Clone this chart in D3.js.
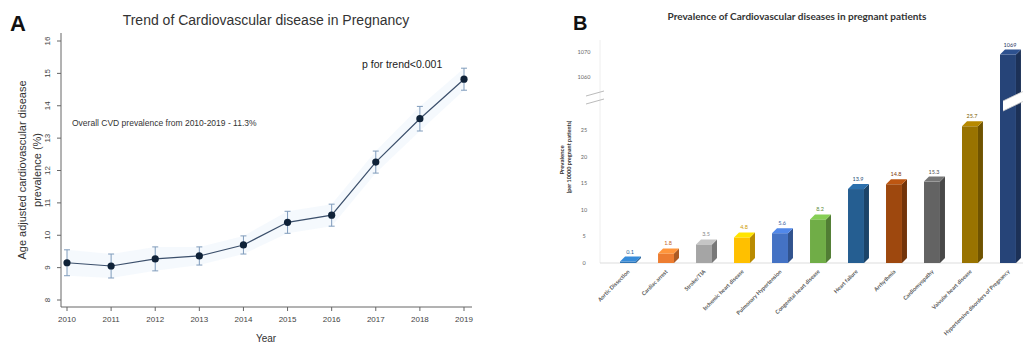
<!DOCTYPE html>
<html><head><meta charset="utf-8">
<script src="https://cdn.jsdelivr.net/npm/d3@7/dist/d3.min.js"></script>
<style>body{margin:0;background:#fff}svg{display:block}</style>
</head><body>
<svg id="c" width="1023" height="347"></svg>
<script>
// Panel A data
const years = [2010, 2011, 2012, 2013, 2014, 2015, 2016, 2017, 2018, 2019];
const prevalence = [9.15, 9.05, 9.27, 9.36, 9.7, 10.4, 10.62, 12.26, 13.6, 14.82];
const ciLow = [8.75, 8.68, 8.9, 9.08, 9.42, 10.06, 10.28, 11.92, 13.22, 14.48];
const ciHigh = [9.55, 9.42, 9.64, 9.64, 9.98, 10.74, 10.96, 12.6, 13.98, 15.16];
const yTicksA = [8, 9, 10, 11, 12, 13, 14, 15, 16];
// Panel B data
const categories = ["Aortic Dissection", "Cardiac arrest", "Stroke/TIA", "Ischemic heart disease",
  "Pulmonary Hypertension", "Congenital heart disease", "Heart failure", "Arrhythmia",
  "Cardiomyopathy", "Valvular heart disease", "Hypertensive disorders of Pregnancy"];
const ratesB = [0.1, 1.8, 3.5, 4.8, 5.6, 8.2, 13.9, 14.8, 15.3, 25.7, 1069];
const barColors = ["#2e75b6", "#ed7d31", "#a5a5a5", "#ffc000", "#4472c4", "#70ad47",
  "#255e91", "#9e480e", "#636363", "#997300", "#264478"];
const yTicksBLow = [0, 5, 10, 15, 20, 25];
const yTicksBHigh = [1060, 1070];

const svg = d3.select("#c");

// ---------- Panel A ----------
const fA = "Liberation Sans, Arial, sans-serif";
const xA = d3.scalePoint().domain(years).range([67, 464]);
const yA = d3.scaleLinear().domain([8, 16]).range([300, 41]);
const gA = svg.append("g");

gA.append("text").attr("x", 10).attr("y", 31).text("A")
  .attr("font-family", fA).attr("font-weight", "bold").attr("font-size", 22).attr("fill", "#111");
gA.append("text").attr("x", 266).attr("y", 25).attr("text-anchor", "middle")
  .text("Trend of Cardiovascular disease in Pregnancy")
  .attr("font-family", fA).attr("font-size", 14).attr("fill", "#333");

const axisCol = "#666";
gA.append("line").attr("x1", 61).attr("x2", 61).attr("y1", 33).attr("y2", 307).attr("stroke", axisCol);
gA.append("line").attr("x1", 61).attr("x2", 472).attr("y1", 307).attr("y2", 307).attr("stroke", axisCol);
yTicksA.forEach(v => {
  gA.append("line").attr("x1", 57).attr("x2", 61).attr("y1", yA(v)).attr("y2", yA(v)).attr("stroke", axisCol);
  gA.append("text").attr("transform", `translate(47,${yA(v)}) rotate(-90)`).attr("text-anchor", "middle")
    .attr("dy", "0.35em").text(v).attr("font-family", fA).attr("font-size", 8).attr("fill", "#444");
});
years.forEach(y => {
  gA.append("line").attr("x1", xA(y)).attr("x2", xA(y)).attr("y1", 307).attr("y2", 311).attr("stroke", axisCol);
  gA.append("text").attr("x", xA(y)).attr("y", 322).attr("text-anchor", "middle").text(y)
    .attr("font-family", fA).attr("font-size", 8).attr("fill", "#444");
});
gA.append("text").attr("x", 266).attr("y", 342).attr("text-anchor", "middle").text("Year")
  .attr("font-family", fA).attr("font-size", 10).attr("fill", "#333");
gA.append("text").attr("transform", "translate(26,170) rotate(-90)").attr("text-anchor", "middle")
  .text("Age adjusted cardiovascular disease").attr("font-family", fA).attr("font-size", 11).attr("fill", "#333");
gA.append("text").attr("transform", "translate(41,170) rotate(-90)").attr("text-anchor", "middle")
  .text("prevalence (%)").attr("font-family", fA).attr("font-size", 11).attr("fill", "#333");

const band = d3.area().x((d, i) => xA(years[i])).y0((d, i) => yA(ciLow[i])).y1((d, i) => yA(ciHigh[i]));
gA.append("path").attr("d", band(years)).attr("fill", "#eef5fb").attr("opacity", 0.6);

const line = d3.line().x((d, i) => xA(years[i])).y(d => yA(d));
gA.append("path").attr("d", line(prevalence)).attr("fill", "none").attr("stroke", "#3b4f6b").attr("stroke-width", 1.2);

years.forEach((y, i) => {
  const x = xA(y), c = "#7f9bbb";
  gA.append("line").attr("x1", x).attr("x2", x).attr("y1", yA(ciLow[i])).attr("y2", yA(ciHigh[i])).attr("stroke", c).attr("stroke-width", 1);
  [ciLow[i], ciHigh[i]].forEach(v => gA.append("line").attr("x1", x - 3).attr("x2", x + 3).attr("y1", yA(v)).attr("y2", yA(v)).attr("stroke", c).attr("stroke-width", 1));
  gA.append("circle").attr("cx", x).attr("cy", yA(prevalence[i])).attr("r", 3.6).attr("fill", "#0f2238");
});

gA.append("text").attr("x", 362).attr("y", 68).text("p for trend<0.001")
  .attr("font-family", fA).attr("font-size", 10.5).attr("fill", "#222");
gA.append("text").attr("x", 72).attr("y", 126).text("Overall CVD prevalence from 2010-2019 - 11.3%")
  .attr("font-family", fA).attr("font-size", 8.5).attr("fill", "#333");

// ---------- Panel B ----------
const fB = "Lato, Open Sans, sans-serif";
const gB = svg.append("g");
gB.append("text").attr("x", 573).attr("y", 30).text("B")
  .attr("font-family", fA).attr("font-weight", "bold").attr("font-size", 20).attr("fill", "#111");
gB.append("text").attr("x", 797).attr("y", 20).attr("text-anchor", "middle")
  .text("Prevalence of Cardiovascular diseases in pregnant patients")
  .attr("font-family", fB).attr("font-weight", "bold").attr("font-size", 10).attr("fill", "#333");

const xB = d3.scaleBand().domain(categories).range([598, 1038]).padding(0.58);
const yLow = d3.scaleLinear().domain([0, 25]).range([263, 130]);
const yHigh = d3.scaleLinear().domain([1060, 1070]).range([77, 52]);
const yB = v => v > 30 ? yHigh(v) : yLow(v);

gB.append("line").attr("x1", 600).attr("x2", 600).attr("y1", 40).attr("y2", 263).attr("stroke", "#eee");
gB.append("line").attr("x1", 600).attr("x2", 1023).attr("y1", 263).attr("y2", 263).attr("stroke", "#ddd");
yTicksBLow.forEach(v => gB.append("text").attr("x", 584).attr("y", yLow(v)).attr("dy", "0.35em").attr("text-anchor", "middle")
  .text(v).attr("font-family", fB).attr("font-size", 5.5).attr("fill", "#666"));
yTicksBHigh.forEach(v => gB.append("text").attr("x", 584).attr("y", yHigh(v)).attr("dy", "0.35em").attr("text-anchor", "middle")
  .text(v).attr("font-family", fB).attr("font-size", 5.5).attr("fill", "#666"));
gB.append("text").attr("transform", "translate(564,160) rotate(-90)").attr("text-anchor", "middle")
  .text("Prevalence").attr("font-family", fB).attr("font-weight", "bold").attr("font-size", 6).attr("fill", "#333");
gB.append("text").attr("transform", "translate(571,157) rotate(-90)").attr("text-anchor", "middle")
  .text("(per 10000 pregnant patients)").attr("font-family", fB).attr("font-weight", "bold").attr("font-size", 5.5).attr("fill", "#333");

const dep = 5;
categories.forEach((c, i) => {
  const x0 = xB(c), w = xB.bandwidth(), col = d3.color(barColors[i]);
  const top = yB(ratesB[i]), bot = 263;
  const hTop = Math.min(top, bot - 1.5);
  gB.append("path").attr("d", `M${x0 + w},${bot} L${x0 + w + dep},${bot - dep} L${x0 + w + dep},${hTop - dep} L${x0 + w},${hTop} Z`)
    .attr("fill", col.darker(0.9));
  gB.append("rect").attr("x", x0).attr("y", hTop).attr("width", w).attr("height", bot - hTop).attr("fill", col);
  gB.append("path").attr("d", `M${x0},${hTop} L${x0 + dep},${hTop - dep} L${x0 + w + dep},${hTop - dep} L${x0 + w},${hTop} Z`)
    .attr("fill", col.brighter(0.5));
  gB.append("text").attr("x", x0 + w / 2 + 2).attr("y", hTop - dep - 3).attr("text-anchor", "middle")
    .text(ratesB[i]).attr("font-family", fB).attr("font-size", 5.5).attr("fill", col.darker(0.6));
  gB.append("text").attr("transform", `translate(${x0 + w / 2 + 2},272) rotate(-45)`).attr("text-anchor", "end")
    .text(c).attr("font-family", fB).attr("font-weight", "bold").attr("font-size", 5.5).attr("fill", "#555");
});

// axis break marks and white break band across the tall bar
gB.append("path").attr("d", "M1003,101 L1030,88 L1030,98 L1003,111 Z").attr("fill", "#fff");
gB.append("line").attr("x1", 586).attr("x2", 604).attr("y1", 96).attr("y2", 91).attr("stroke", "#bbb").attr("stroke-width", 1);
gB.append("line").attr("x1", 586).attr("x2", 604).attr("y1", 104).attr("y2", 99).attr("stroke", "#bbb").attr("stroke-width", 1);
gB.append("line").attr("x1", 1003).attr("x2", 1023).attr("y1", 101).attr("y2", 91.5).attr("stroke", "#ccc").attr("stroke-width", 0.8);
gB.append("line").attr("x1", 1003).attr("x2", 1023).attr("y1", 111).attr("y2", 101.5).attr("stroke", "#ccc").attr("stroke-width", 0.8);
</script>
</body></html>
